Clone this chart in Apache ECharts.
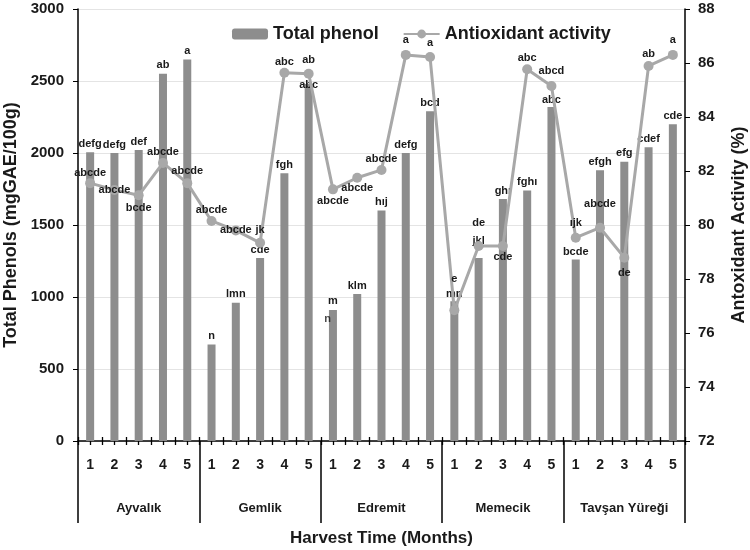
<!DOCTYPE html>
<html>
<head>
<meta charset="utf-8">
<script src="https://cdn.jsdelivr.net/npm/echarts@6/dist/echarts.min.js"></script>
<style>html,body{margin:0;padding:0;background:#fff}#c{width:750px;height:550px}</style>
</head>
<body>
<div id="c"></div>
<script>
// ---- data ----
const groups = ['Ayvalık', 'Gemlik', 'Edremit', 'Memecik', 'Tavşan Yüreği'];
const months = ['1', '2', '3', '4', '5'];
const totalPhenol = [2005, 2000, 2020, 2550, 2650,
                     670, 960, 1270, 1860, 2480,
                     910, 1020, 1600, 2000, 2290,
                     970, 1270, 1680, 1740, 2320,
                     1260, 1880, 1940, 2040, 2200];
const antioxidant = [81.55, 81.3, 81.1, 82.3, 81.55,
                     80.15, 79.8, 79.34, 85.64, 85.6,
                     81.32, 81.75, 82.04, 86.3, 86.22,
                     76.84, 79.22, 79.22, 85.77, 85.15,
                     79.53, 79.9, 78.79, 85.89, 86.3];
const phenolLetters = ['defg', 'defg', 'def', 'ab', 'a',
                       'n', 'lmn', 'cde', 'fgh', 'abc',
                       'm', 'klm', 'hıj', 'defg', 'bcd',
                       'mn', 'jkl', 'ghı', 'fghı', 'abc',
                       'bcde', 'efgh', 'efg', 'cdef', 'cde'];
const antioxLetters = ['abcde', 'abcde', 'bcde', 'abcde', 'abcde',
                       'abcde', 'abcde', 'jk', 'abc', 'ab',
                       'abcde', 'abcde', 'abcde', 'a', 'a',
                       'e', 'de', 'cde', 'abc', 'abcd',
                       'ıjk', 'abcde', 'de', 'ab', 'a'];
// extra letter shown beside a bar (category index -> text)
const extraBarLetters = [{ idx: 10, text: 'n' }];
const leftAxisRange = { min: 0, max: 3000, step: 500 };
const rightAxisRange = { min: 72, max: 88, step: 2 };

// ---- presentation (label placement: position, distance) ----
const antioxLabelLayout = [
  ['top', 0], ['inside', 0], ['bottom', 2], ['top', 0], ['top', 2],
  ['top', 0], ['inside', 0], ['top', 2], ['top', 0], ['top', 3],
  ['bottom', 1], ['bottom', 0], ['top', 0], ['top', 4], ['top', 4],
  ['top', 21], ['top', 13], ['bottom', 0], ['top', 1], ['top', 4],
  ['top', 4], ['top', 13], ['bottom', 5], ['top', 2], ['top', 4]
];
const barLabelDist = {9: -7, 15: 2, 16: 12, 19: 1, 20: 2};

const cats = [];
groups.forEach(g => months.forEach(m => cats.push(g + '-' + m)));

const txt = '#1a1a1a';
const font = 'Liberation Sans';
const letterStyle = { color: txt, fontSize: 11, fontWeight: 'bold', fontFamily: font };

const barData = totalPhenol.map((v, i) => ({
  value: v,
  label: { show: true, position: 'top', distance: (barLabelDist[i] !== undefined ? barLabelDist[i] : 3),
           formatter: phenolLetters[i], ...letterStyle }
}));
const lineData = antioxidant.map((v, i) => ({
  value: v,
  label: { show: true, position: antioxLabelLayout[i][0], distance: antioxLabelLayout[i][1],
           formatter: antioxLetters[i], ...letterStyle }
}));
const extraData = extraBarLetters.map(e => ({
  value: [e.idx, totalPhenol[e.idx]],
  label: { show: true, position: 'left', distance: 2, offset: [0, 9], formatter: e.text, ...letterStyle }
}));

const tickAxis = (align) => ({
  type: 'category', data: cats, position: 'bottom', offset: -4,
  axisLine: { show: false }, axisLabel: { show: false },
  axisTick: { show: true, interval: 0, alignWithLabel: align, length: 8, lineStyle: { color: '#000', width: 1.3 } },
  splitLine: { show: false }
});

const chart = echarts.init(document.getElementById('c'));
chart.setOption({
  animation: false,
  backgroundColor: '#fff',
  textStyle: { fontFamily: font },
  grid: { left: 78, right: 65, top: 9, bottom: 109, containLabel: false, outerBoundsMode: 'none' },
  legend: {
    top: 20, left: 227, itemWidth: 36, itemHeight: 11, itemGap: 24,
    textStyle: { fontSize: 18, fontWeight: 'bold', color: txt, fontFamily: font },
    data: ['Total phenol', 'Antioxidant activity']
  },
  xAxis: [
    {
      type: 'category', data: cats, position: 'bottom',
      axisLine: { show: true, lineStyle: { color: '#000', width: 1.5 } },
      axisTick: { show: false },
      axisLabel: { interval: 0, margin: 17, fontSize: 14, fontWeight: 'bold', color: txt,
                   formatter: (v, i) => months[i % months.length] }
    },
    tickAxis(false),
    tickAxis(true),
    {
      type: 'category', data: groups, position: 'bottom',
      axisLine: { show: false },
      axisTick: { show: true, interval: 0, length: 82, lineStyle: { color: '#000', width: 1.5 } },
      axisLabel: { interval: 0, margin: 61, fontSize: 13, fontWeight: 'bold', color: txt },
      name: 'Harvest Time (Months)', nameLocation: 'middle', nameGap: 89,
      nameTextStyle: { fontSize: 17, fontWeight: 'bold', color: txt }
    }
  ],
  yAxis: [
    {
      type: 'value', min: leftAxisRange.min, max: leftAxisRange.max, interval: leftAxisRange.step,
      axisLine: { show: true, lineStyle: { color: '#000', width: 1.5 } },
      axisTick: { show: true, length: 5, lineStyle: { color: '#000' } },
      axisLabel: { fontSize: 15, fontWeight: 'bold', color: txt, margin: 14, formatter: v => String(v) },
      splitLine: { show: true, lineStyle: { color: '#e4e4e4', width: 1.2 } },
      name: 'Total Phenols (mgGAE/100g)', nameLocation: 'middle', nameRotate: 90, nameGap: 57,
      nameTextStyle: { fontSize: 18, fontWeight: 'bold', color: txt }
    },
    {
      type: 'value', min: rightAxisRange.min, max: rightAxisRange.max, interval: rightAxisRange.step,
      position: 'right',
      axisLine: { show: true, lineStyle: { color: '#000', width: 1.5 } },
      axisTick: { show: true, length: 5, lineStyle: { color: '#000' } },
      axisLabel: { fontSize: 15, fontWeight: 'bold', color: txt, margin: 13 },
      splitLine: { show: false },
      name: 'Antoxidant Activity (%)', nameLocation: 'middle', nameRotate: 90, nameGap: 45,
      nameTextStyle: { fontSize: 18, fontWeight: 'bold', color: txt, verticalAlign: 'top' }
    }
  ],
  series: [
    {
      name: 'Total phenol', type: 'bar', xAxisIndex: 0, yAxisIndex: 0,
      barWidth: 8, itemStyle: { color: '#8d8d8d' }, data: barData, z: 2,
      labelLayout: { hideOverlap: false }
    },
    {
      name: 'Antioxidant activity', type: 'line', xAxisIndex: 0, yAxisIndex: 1,
      symbol: 'circle', symbolSize: 10,
      lineStyle: { color: '#a8a8a8', width: 3 },
      itemStyle: { color: '#a8a8a8' },
      data: lineData, z: 3,
      labelLayout: { hideOverlap: false }
    },
    {
      type: 'scatter', xAxisIndex: 0, yAxisIndex: 0, symbolSize: 0,
      data: extraData, silent: true, z: 4
    }
  ]
});
</script>
</body>
</html>
